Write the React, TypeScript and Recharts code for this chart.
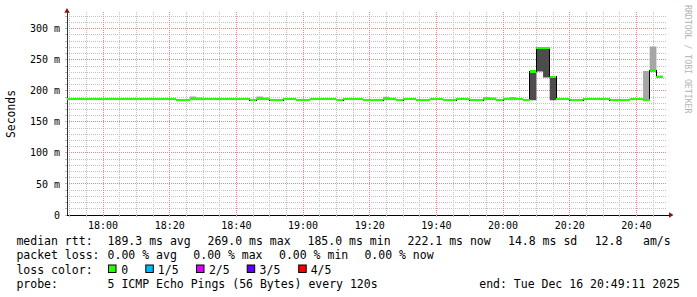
import React from 'react';
import { ComposedChart, Area, Line, XAxis, YAxis, CartesianGrid } from 'recharts';

// time axis in minutes of the day (17:49:11 .. 20:49:11)
const START = 1069.1833;
const END = 1249.1833;

// step start times (minutes of day), 2-minute RRD steps
const stepTimes = [
  1069.1833, 1070, 1072, 1074, 1076, 1078, 1080, 1082, 1084, 1086,
  1088, 1090, 1092, 1094, 1096, 1098, 1100, 1102, 1104, 1106,
  1108, 1110, 1112, 1114, 1116, 1118, 1120, 1122, 1124, 1126,
  1128, 1130, 1132, 1134, 1136, 1138, 1140, 1142, 1144, 1146,
  1148, 1150, 1152, 1154, 1156, 1158, 1160, 1162, 1164, 1166,
  1168, 1170, 1172, 1174, 1176, 1178, 1180, 1182, 1184, 1186,
  1188, 1190, 1192, 1194, 1196, 1198, 1200, 1202, 1204, 1206,
  1208, 1210, 1212, 1214, 1216, 1218, 1220, 1222, 1224, 1226,
  1228, 1230, 1232, 1234, 1236, 1238, 1240, 1242, 1244, 1246,
  1248,
];

// median rtt in ms
const medianMs = [
  186.6, 186.6, 186.6, 186.6, 186.6, 186.6, 186.6, 186.6, 186.6, 186.6,
  186.6, 186.6, 186.6, 186.6, 186.6, 186.6, 186.6, 185.0, 185.0, 186.6,
  186.6, 186.6, 186.6, 186.6, 186.6, 186.6, 186.6, 186.6, 185.0, 186.6,
  186.6, 185.0, 185.0, 186.6, 186.6, 185.0, 185.0, 186.6, 186.6, 186.6,
  186.6, 185.0, 186.6, 186.6, 186.6, 185.0, 185.0, 185.0, 186.6, 186.6,
  185.0, 186.6, 186.6, 185.0, 185.0, 186.6, 186.6, 185.0, 185.0, 186.6,
  186.6, 185.0, 185.0, 186.6, 186.6, 185.0, 186.6, 186.6, 186.6, 185.0,
  230.8, 269.0, 269.0, 222.3, 186.6, 186.6, 185.0, 185.0, 186.6, 186.6,
  186.6, 186.6, 185.0, 185.0, 185.0, 186.6, 186.6, 185.0, 232.6, 222.1,
  222.1,
];

// light smoke (outer pings)
const lightStepTimes = [1106, 1108, 1126, 1128, 1164, 1166, 1194, 1196, 1200, 1202, 1242, 1244, 1246, 1248];
const lightLowMs = [185.0, 185.0, 185.0, 185.0, 185.0, 185.0, 185.0, 185.0, 185.0, 185.0, 185.0, 232.6, 222.1, 222.1];
const lightHighMs = [190.8, 189.2, 190.8, 189.2, 190.6, 189.0, 190.2, 189.2, 188.8, 190.2, 232.0, 271.5, 224.6, 224.6];

// dark smoke (inner pings)
const darkStepTimes = [1208, 1210, 1212, 1214];
const darkLowMs = [185.0, 231.0, 221.5, 185.0];
const darkHighMs = [230.8, 269.0, 269.0, 222.3];

const xTicks = [1080, 1100, 1120, 1140, 1160, 1180, 1200, 1220, 1240];
const xMinor = [1070, 1075, 1085, 1090, 1095, 1105, 1110, 1115, 1125, 1130, 1135, 1145, 1150, 1155, 1165, 1170, 1175, 1185, 1190, 1195, 1205, 1210, 1215, 1225, 1230, 1235, 1245];
const xAllTicks = [1070, 1075, 1080, 1085, 1090, 1095, 1100, 1105, 1110, 1115, 1120, 1125, 1130, 1135, 1140, 1145, 1150, 1155, 1160, 1165, 1170, 1175, 1180, 1185, 1190, 1195, 1200, 1205, 1210, 1215, 1220, 1225, 1230, 1235, 1240, 1245];
const yMajor = [50, 100, 150, 200, 250, 300];
const yMinor = [10, 20, 30, 40, 60, 70, 80, 90, 110, 120, 130, 140, 160, 170, 180, 190, 210, 220, 230, 240, 260, 270, 280, 290, 310, 320];
const yAllTicks = [0, 10, 20, 30, 40, 50, 60, 70, 80, 90, 100, 110, 120, 130, 140, 150, 160, 170, 180, 190, 200, 210, 220, 230, 240, 250, 260, 270, 280, 290, 300, 310, 320];

const W = 697;
const H = 297;
const PLOT_LEFT = 67;
const PLOT_RIGHT = 667;
const PX_PER_MIN = (PLOT_RIGHT - PLOT_LEFT) / (END - START);
const GREEN = '#26ff00';
const MONO = 'DejaVu Sans Mono';

const rows = stepTimes.map((t, i) => {
  const m = medianMs[i];
  const li = lightStepTimes.indexOf(t);
  const di = darkStepTimes.indexOf(t);
  return {
    t,
    median: m,
    light: li >= 0 ? [lightLowMs[li], lightHighMs[li]] : [m, m],
    dark: di >= 0 ? [darkLowMs[di], darkHighMs[di]] : [m, m],
  };
});

const fmtTime = (v: number) => {
  if (xTicks.indexOf(v) < 0) return '';
  const h = Math.floor(v / 60);
  const m = Math.round(v - h * 60);
  return `${h}:${m < 10 ? '0' : ''}${m}`;
};
const fmtMs = (v: number) => {
  if (v % 50 !== 0) return '';
  return v === 0 ? '0' : `${v} m`;
};

const applyScale = (s: any, v: number): number => {
  if (!s) return NaN;
  if (typeof s === 'function') return s(v);
  if (typeof s.map === 'function') return s.map(v);
  if (typeof s.scale === 'function') return s.scale(v);
  return NaN;
};

// grid lines placed through the axis scales, snapped to pixel centres
const snapGen = (values: number[], key: 'xAxis' | 'yAxis') => (props: any) => {
  const axis = props && props[key];
  const s = axis && axis.scale;
  const out: number[] = [];
  values.forEach((v) => {
    const c = applyScale(s, v);
    if (typeof c === 'number' && isFinite(c)) out.push(Math.round(c - 0.5) + 0.5);
  });
  return out;
};

const renderGreen = (p: any) => {
  const key = `g${p.index}`;
  if (p.index >= rows.length - 1 || p.cx == null || p.cy == null) return <g key={key} />;
  const w = (rows[p.index + 1].t - rows[p.index].t) * PX_PER_MIN;
  return <rect key={key} x={p.cx} y={p.cy - 1.25} width={w} height={2.5} fill={GREEN} shapeRendering="crispEdges" />;
};

const legendFont = { fontFamily: MONO, fontSize: 11.5, fill: '#000' } as const;

const lossColors = [
  { x: 108, tx: 121.3, c: '#26ff00', label: '0' },
  { x: 145.3, tx: 157.8, c: '#00b8ff', label: '1/5' },
  { x: 196, tx: 208.9, c: '#dd00ff', label: '2/5' },
  { x: 246.7, tx: 259.6, c: '#5e00ff', label: '3/5' },
  { x: 298.2, tx: 310.7, c: '#ff0000', label: '4/5' },
];

export default function App() {
  return (
    <div style={{ position: 'absolute', left: 0, top: 0, width: W, height: H, background: '#fff' }}>
      <ComposedChart width={W} height={H} data={rows} margin={{ top: 12, right: 30, bottom: 52, left: 0 }}>
        <CartesianGrid
          stroke="#c2c2c2"
          strokeDasharray="1 1"
          horizontalCoordinatesGenerator={snapGen(yMinor, 'yAxis')}
          verticalCoordinatesGenerator={snapGen(xMinor, 'xAxis')}
          fill="none"
        />
        <CartesianGrid
          stroke="#e58a8a"
          strokeDasharray="1 1"
          horizontalCoordinatesGenerator={snapGen(yMajor, 'yAxis')}
          verticalCoordinatesGenerator={snapGen(xTicks, 'xAxis')}
          fill="none"
        />
        <XAxis
          type="number"
          dataKey="t"
          domain={[START, END]}
          ticks={xAllTicks}
          interval={0}
          allowDataOverflow
          tickFormatter={fmtTime}
          height={30}
          tickSize={2}
          tickMargin={5}
          tickLine={{ stroke: '#b8b8b8', shapeRendering: 'crispEdges' }}
          axisLine={{ stroke: '#000', shapeRendering: 'crispEdges' }}
          tick={{ fontFamily: MONO, fontSize: 10, fill: '#000' }}
        />
        <YAxis
          type="number"
          domain={[0, 327]}
          ticks={yAllTicks}
          interval={0}
          allowDataOverflow
          tickFormatter={fmtMs}
          width={67}
          tickSize={2}
          tickMargin={5}
          tickLine={{ stroke: '#b8b8b8', shapeRendering: 'crispEdges' }}
          axisLine={{ stroke: '#333', shapeRendering: 'crispEdges' }}
          tick={{ fontFamily: MONO, fontSize: 10, fill: '#000' }}
        />
        <Area type="stepAfter" dataKey="light" stroke="none" fill="#a6a6a6" fillOpacity={1} isAnimationActive={false} activeDot={false} />
        <Area type="stepAfter" dataKey="dark" stroke="none" fill="#4d4d4d" fillOpacity={1} isAnimationActive={false} activeDot={false} />
        <Line type="stepAfter" dataKey="median" stroke="#000" strokeWidth={1} dot={false} activeDot={false} isAnimationActive={false} shapeRendering="crispEdges" />
        <Line type="stepAfter" dataKey="median" stroke="none" dot={renderGreen} activeDot={false} isAnimationActive={false} />
      </ComposedChart>
      <svg width={W} height={H} style={{ position: 'absolute', left: 0, top: 0, pointerEvents: 'none' }}>
        {/* axis arrows */}
        <line x1={667} y1={215} x2={669.5} y2={215} stroke="#000" strokeWidth={1} shapeRendering="crispEdges" />
        <polygon points="673.5,215 669,212.3 669,217.7" fill="#8c1010" />
        <polygon points="67,8 64.3,12.8 69.7,12.8" fill="#8c1010" />
        {/* y title */}
        <text transform="translate(15,114) rotate(-90)" textAnchor="middle" fontFamily={MONO} fontSize={11.4} fill="#000">
          Seconds
        </text>
        {/* watermark */}
        <text transform="translate(685,5) rotate(90)" fontFamily={MONO} fontSize={8.2} fill="#b4b4b4">
          RRDTOOL / TOBI OETIKER
        </text>
        {/* legend */}
        <g {...legendFont}>
          <text x={16.4} y={245}>median rtt:</text>
          <text x={107.6} y={245}>189.3 ms avg</text>
          <text x={207.5} y={245}>269.0 ms max</text>
          <text x={307.5} y={245}>185.0 ms min</text>
          <text x={407.6} y={245}>222.1 ms now</text>
          <text x={508} y={245}>14.8 ms sd</text>
          <text x={594.7} y={245}>12.8</text>
          <text x={643} y={245}>am/s</text>

          <text x={16.4} y={259.3}>packet loss:</text>
          <text x={107.6} y={259.3}>0.00 % avg</text>
          <text x={193.3} y={259.3}>0.00 % max</text>
          <text x={279} y={259.3}>0.00 % min</text>
          <text x={364.4} y={259.3}>0.00 % now</text>

          <text x={16.4} y={273.5}>loss color:</text>
          {lossColors.map((l) => (
            <g key={l.label}>
              <rect x={l.x + 0.5} y={265} width={7.5} height={7.5} fill={l.c} stroke="#000" strokeWidth={1} />
              <text x={l.tx} y={273.5}>{l.label}</text>
            </g>
          ))}

          <text x={16.4} y={287.7}>probe:</text>
          <text x={107.6} y={287.7}>5 ICMP Echo Pings (56 Bytes) every 120s</text>
          <text x={680} y={287.7} textAnchor="end">end: Tue Dec 16 20:49:11 2025</text>
        </g>
      </svg>
    </div>
  );
}
